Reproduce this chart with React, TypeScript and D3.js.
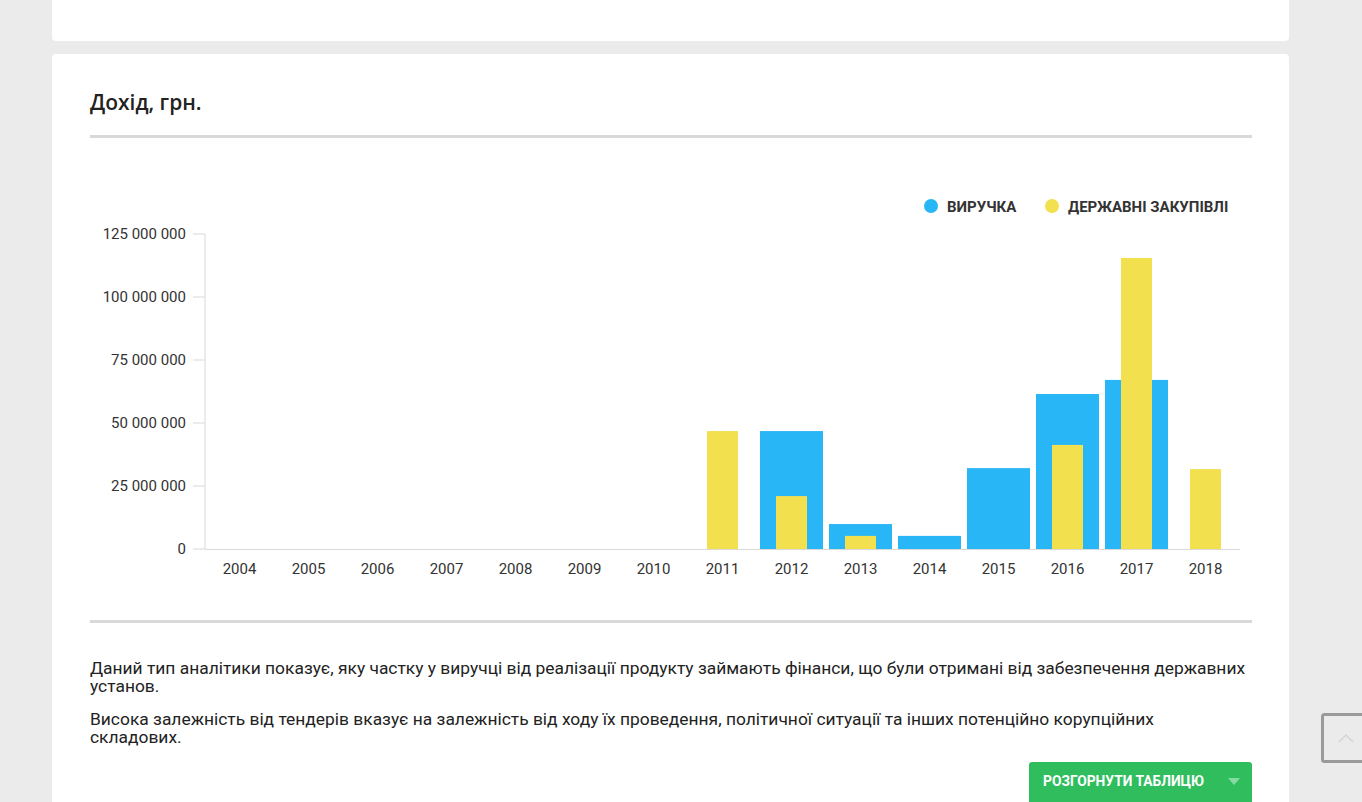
import React from "react";
import * as d3 from "d3";

const years = ["2004","2005","2006","2007","2008","2009","2010","2011","2012","2013","2014","2015","2016","2017","2018"];
const revenue = [0,0,0,0,0,0,0,0,46.8e6,9.9e6,5.2e6,32.1e6,61.5e6,67.1e6,0];
const procurement = [0,0,0,0,0,0,0,46.8e6,21.0e6,5.2e6,0,0,41.3e6,115.5e6,31.7e6];
const yTicks = [0,25e6,50e6,75e6,100e6,125e6];
const seriesNames = ["ВИРУЧКА","ДЕРЖАВНІ ЗАКУПІВЛІ"];
const paragraphs = [
  ["Даний тип аналітики показує, яку частку у виручці від реалізації продукту займають фінанси, що були отримані від забезпечення державних", "установ."],
  ["Висока залежність від тендерів вказує на залежність від ходу їх проведення, політичної ситуації та інших потенційно корупційних", "складових."],
];

const BLUE = "#29b6f6";
const YELLOW = "#f3e04e";
const TEXT = "#333";
const GRID = "#d9d9d9";

export default function App() {
  const W = 1362, H = 802;
  const x = d3.scaleBand<string>().domain(years).range([205, 1240]).paddingInner(6/69).paddingOuter(3/69);
  const y = d3.scaleLinear().domain([0, 125e6]).range([549, 234]);
  const fmt = (v: number) => d3.format(",")(v).replace(/,/g, " ");
  const bw = x.bandwidth();
  const yw = 31;

  return (
    <div style={{ position: "absolute", left: 0, top: 0, width: W, height: H, overflow: "hidden" }}>
      <svg width={W} height={H} style={{ display: "block", fontFamily: "Roboto, sans-serif" }}>
        <rect x={0} y={0} width={W} height={H} fill="#ecebeb" />
        <rect x={52} y={-10} width={1237} height={51} rx={4} fill="#fff" />
        <rect x={52} y={54} width={1237} height={770} rx={4} fill="#fff" />

        <text x={90} y={110} fontFamily="'Open Sans', sans-serif" fontWeight={600} fontSize={21} fill="#222">Дохід, грн.</text>
        <rect x={90} y={135} width={1162} height={3} fill={GRID} />

        {/* legend */}
        <circle cx={931} cy={206} r={7} fill={BLUE} />
        <text x={947} y={211.5} fontWeight={700} fontSize={15} fill={TEXT}>{seriesNames[0]}</text>
        <circle cx={1052} cy={206} r={7} fill={YELLOW} />
        <text x={1068} y={211.5} fontWeight={700} fontSize={15} fill={TEXT}>{seriesNames[1]}</text>

        {/* y axis */}
        <line x1={205} x2={205} y1={y(125e6)} y2={y(0)} stroke={GRID} strokeWidth={1} />
        {yTicks.map((t) => (
          <g key={t}>
            <line x1={193} x2={205} y1={y(t)} y2={y(t)} stroke={GRID} />
            <text x={186} y={y(t) + 5} textAnchor="end" fontSize={15} fill={TEXT}>{fmt(t)}</text>
          </g>
        ))}
        {/* x axis */}
        <line x1={205} x2={1240} y1={y(0) + 0.5} y2={y(0) + 0.5} stroke={GRID} />
        {years.map((yr) => (
          <text key={yr} x={(x(yr) as number) + bw / 2} y={574} textAnchor="middle" fontSize={15} fill={TEXT}>{yr}</text>
        ))}

        {/* bars */}
        {years.map((yr, i) => revenue[i] > 0 ? (
          <rect key={"r" + yr} x={x(yr)} y={y(revenue[i])} width={bw} height={y(0) - y(revenue[i])} fill={BLUE} />
        ) : null)}
        {years.map((yr, i) => procurement[i] > 0 ? (
          <rect key={"p" + yr} x={(x(yr) as number) + bw / 2 - yw / 2} y={y(procurement[i])} width={yw} height={y(0) - y(procurement[i])} fill={YELLOW} />
        ) : null)}

        <rect x={90} y={620} width={1162} height={3} fill={GRID} />

        {paragraphs.map((p, pi) => p.map((line, li) => (
          <text key={pi + "-" + li} x={90} y={674 + pi * 51 + li * 18} fontSize={17.4} fill="#222">{line}</text>
        )))}

        {/* button */}
        <rect x={1029} y={762} width={223} height={50} rx={3} fill="#2fbd5e" />
        <text x={1043} y={786} fontWeight={700} fontSize={13.8} fill="#fff">РОЗГОРНУТИ ТАБЛИЦЮ</text>
        <path d="M1228,778 L1240,778 L1234,785 Z" fill="#86dba2" />

        {/* scroll-to-top */}
        <rect x={1322.5} y={714.5} width={60} height={47} rx={2} fill="#ecebeb" stroke="#9a9a9a" strokeWidth={3} />
        <path d="M1339,742 L1346,735 L1353,742" fill="none" stroke="#d5d5d5" strokeWidth={1.5} />
      </svg>
    </div>
  );
}
